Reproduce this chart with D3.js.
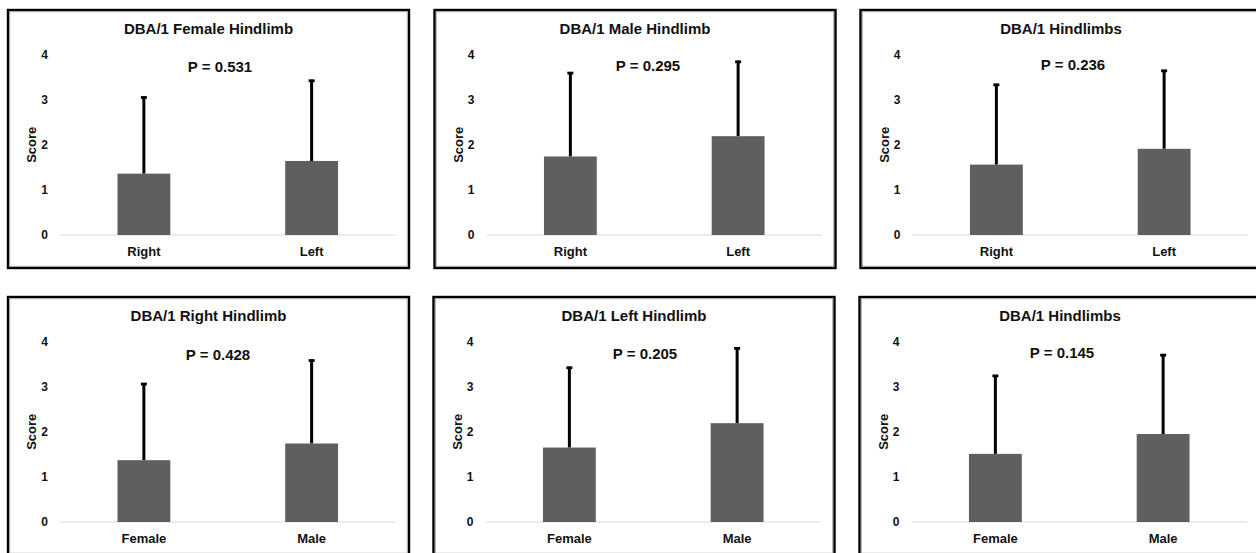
<!DOCTYPE html>
<html>
<head>
<meta charset="utf-8">
<script src="https://cdn.jsdelivr.net/npm/d3@7"></script>
<style>
  html, body { margin: 0; padding: 0; background: #fff; }
  svg { display: block; }
  text { font-family: "Liberation Sans", Arial, sans-serif; font-weight: bold; fill: #111; }
</style>
</head>
<body>
<svg id="chart" width="1256" height="553"></svg>
<script>
// ---- data ----
const titles = [
  "DBA/1 Female Hindlimb", "DBA/1 Male Hindlimb", "DBA/1 Hindlimbs",
  "DBA/1 Right Hindlimb", "DBA/1 Left Hindlimb", "DBA/1 Hindlimbs"
];
const sideCategories = ["Right", "Left"];
const sexCategories = ["Female", "Male"];
const panelCategories = [sideCategories, sideCategories, sideCategories, sexCategories, sexCategories, sexCategories];
const means = [
  [1.36, 1.64],
  [1.74, 2.19],
  [1.56, 1.91],
  [1.37, 1.74],
  [1.65, 2.19],
  [1.51, 1.95]
];
const errors = [
  [1.71, 1.80],
  [1.87, 1.67],
  [1.79, 1.75],
  [1.71, 1.86],
  [1.79, 1.68],
  [1.75, 1.77]
];
const pLabels = ["P = 0.531", "P = 0.295", "P = 0.236", "P = 0.428", "P = 0.205", "P = 0.145"];
const yTicks = [0, 1, 2, 3, 4];
const yLabel = "Score";

// ---- layout ----
const panelLeft = [8, 434.5, 860.5, 8, 433.5, 859.5];
const panelTop = [10, 10, 10, 297, 297, 297];
const panelW = 401, panelH = 258;
const plotL = 52, plotR = 387.5, plotT = 44.5, plotB = 225;
const pX = [212, 213.5, 212.5, 210, 211.5, 202.5];
const pY = [62, 61, 60, 63, 62, 61];

const svg = d3.select("#chart");

titles.forEach((title, i) => {
  const g = svg.append("g").attr("transform", `translate(${panelLeft[i]},${panelTop[i]})`);

  g.append("rect")
    .attr("x", 0).attr("y", 0)
    .attr("width", panelW).attr("height", panelH)
    .attr("fill", "#fff")
    .attr("stroke", "#000")
    .attr("stroke-width", 2.4);
  g.append("rect")
    .attr("x", 1.8).attr("y", 1.8)
    .attr("width", panelW - 3.6).attr("height", panelH - 3.6)
    .attr("fill", "none")
    .attr("stroke", "#9a9a9a")
    .attr("stroke-width", 0.8);

  g.append("text")
    .attr("x", panelW / 2).attr("y", 23.5)
    .attr("text-anchor", "middle")
    .style("font-size", "15px")
    .text(title);

  const x = d3.scaleBand()
    .domain(panelCategories[i])
    .range([plotL, plotR])
    .paddingInner(0.685)
    .paddingOuter(0.3425);
  const y = d3.scaleLinear().domain([0, 4]).range([plotB, plotT]);

  // baseline gridline
  g.append("line")
    .attr("x1", plotL).attr("x2", plotR)
    .attr("y1", y(0)).attr("y2", y(0))
    .attr("stroke", "#d9d9d9").attr("stroke-width", 1);

  // y axis
  const ya = g.append("g")
    .attr("transform", `translate(${plotL},0)`)
    .call(d3.axisLeft(y).tickValues(yTicks).tickSize(0).tickPadding(12).tickFormat(d3.format("d")));
  ya.select(".domain").remove();
  ya.selectAll("text").style("font-size", "12px").style("font-family", "'Liberation Sans', Arial, sans-serif").attr("fill", "#111");

  // x axis
  const xa = g.append("g")
    .attr("transform", `translate(0,${y(0)})`)
    .call(d3.axisBottom(x).tickSize(0).tickPadding(12));
  xa.select(".domain").remove();
  xa.selectAll("text").style("font-size", "13px").style("font-family", "'Liberation Sans', Arial, sans-serif").attr("fill", "#111");

  // y label
  g.append("text")
    .attr("transform", `translate(28,${(plotT + plotB) / 2}) rotate(-90)`)
    .attr("text-anchor", "middle")
    .style("font-size", "13px")
    .text(yLabel);

  const cats = panelCategories[i];
  // error bars (upward only)
  cats.forEach((c, j) => {
    const cx = x(c) + x.bandwidth() / 2;
    const top = means[i][j] + errors[i][j];
    g.append("line")
      .attr("x1", cx).attr("x2", cx)
      .attr("y1", y(means[i][j])).attr("y2", y(top))
      .attr("stroke", "#000").attr("stroke-width", 3);
    g.append("line")
      .attr("x1", cx - 3).attr("x2", cx + 3)
      .attr("y1", y(top) + 1).attr("y2", y(top) + 1)
      .attr("stroke", "#000").attr("stroke-width", 2.8);
  });

  // bars
  g.selectAll("rect.bar")
    .data(cats)
    .enter().append("rect")
    .attr("class", "bar")
    .attr("x", c => x(c))
    .attr("width", x.bandwidth())
    .attr("y", (c, j) => y(means[i][j]))
    .attr("height", (c, j) => y(0) - y(means[i][j]))
    .attr("fill", "#5f5f5f");

  // P value
  g.append("text")
    .attr("x", pX[i]).attr("y", pY[i])
    .attr("text-anchor", "middle")
    .style("font-size", "15px")
    .text(pLabels[i]);
});
</script>
</body>
</html>
